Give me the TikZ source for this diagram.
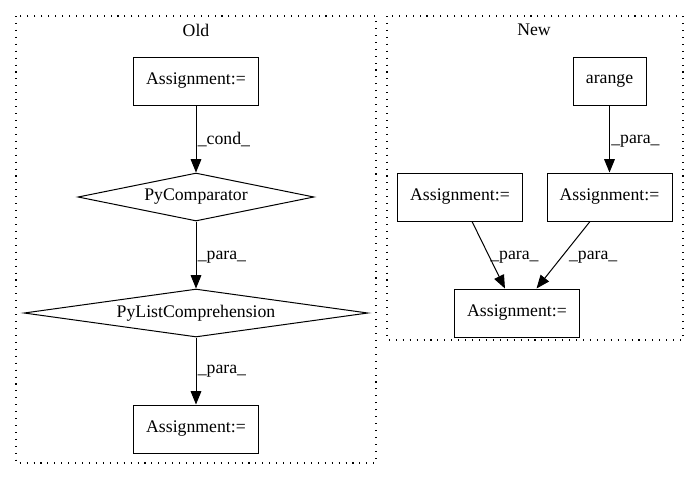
\documentclass[tikz,border=0pt]{standalone}
\usepackage{fontspec}
\setmainfont{Liberation Serif}
\usetikzlibrary{shapes.geometric,arrows.meta}
\begin{document}
\begin{tikzpicture}[x=0.75pt,y=-0.75pt,
    font=\fontsize{13.3}{15}\selectfont,
    cluster/.style={draw,line width=0.8pt,dash pattern=on 0.8pt off 4.4pt},
    stmt/.style={draw,rectangle,line width=0.75pt,minimum width=93.75pt,minimum height=36pt,inner sep=0pt},
    cmp/.style={draw,diamond,line width=0.75pt,aspect=6,inner sep=0pt,minimum height=36pt},
    lbl/.style={anchor=west,inner sep=1pt},
    edge/.style={-{Triangle[length=10pt,width=8pt]},line width=0.75pt}]
  \useasboundingbox (0,0) rectangle (699,480);
  % clusters
  \draw[cluster] (16,16) rectangle (376,463);
  \node (oldlbl) at (196,30) {Old};
  \draw[cluster] (387,16) rectangle (683,340);
  \node (newlbl) at (534,30) {New};
  % old graph
  \draw
    (196,81) node[stmt] (oa){Assignment:=}
    (196,197) node[cmp,minimum width=177pt] (oc){PyComparator}
    (196,313) node[cmp,minimum width=258pt] (ol){PyListComprehension}
    (196,429) node[stmt] (ob){Assignment:=};
  % new graph
  \draw
    (609.5,81) node[stmt,minimum width=54.75pt] (na){arange}
    (609.5,197) node[stmt] (nr){Assignment:=}
    (460,197) node[stmt] (nl){Assignment:=}
    (517,313) node[stmt] (nb){Assignment:=};
  \begin{scope}[edge]
    \draw (oa) -- node[lbl]{\_cond\_} (oc);
    \draw (oc) -- node[lbl,yshift=-2pt]{\_para\_} (ol);
    \draw (ol) -- node[lbl]{\_para\_} (ob);
    \draw (na) -- node[lbl,yshift=-2pt]{\_para\_} (nr);
    \draw (nl) -- node[lbl,yshift=-2pt]{\_para\_} (nb);
    \draw (nr) -- node[lbl,xshift=3pt,yshift=-2pt]{\_para\_} (nb);
  \end{scope}
\end{tikzpicture}
\end{document}
